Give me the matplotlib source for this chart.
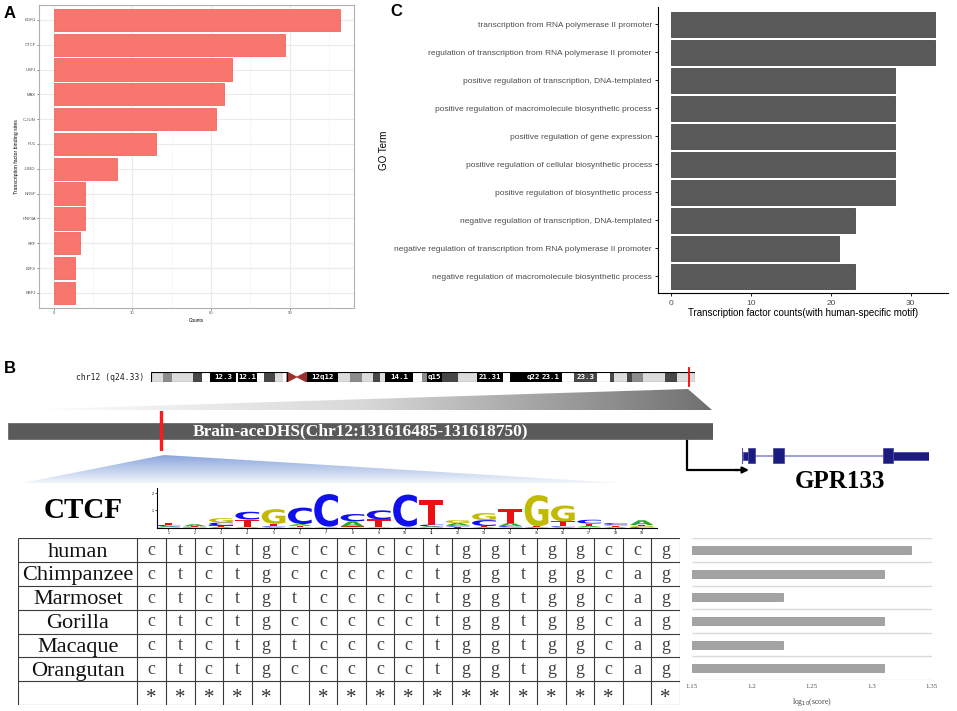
import numpy as np
import matplotlib
matplotlib.use('Agg')
import matplotlib.pyplot as plt
from matplotlib.patches import Rectangle, Polygon, PathPatch
from matplotlib.textpath import TextPath
from matplotlib.font_manager import FontProperties
from matplotlib.transforms import Affine2D
from matplotlib.colors import LinearSegmentedColormap

SANS = ['Liberation Sans', 'DejaVu Sans']
SERIF = ['Liberation Serif', 'DejaVu Serif']
MONO = ['DejaVu Sans Mono']
plt.rcParams['font.family'] = SANS

# ---------------- data ----------------
# Panel A
tf_names = ['EGR1', 'CTCF', 'USF1', 'MAX', 'C-JUN', 'PU1', 'JUND', 'NRSF',
            'HNF4A', 'SRF', 'E2F4', 'EBF1']
tf_counts = [109, 88, 68, 65, 62, 39, 24, 12, 12, 10, 8, 8]

# Panel C
go_terms = ['transcription from RNA polymerase II promoter',
            'regulation of transcription from RNA polymerase II promoter',
            'positive regulation of transcription, DNA-templated',
            'positive regulation of macromolecule biosynthetic process',
            'positive regulation of gene expression',
            'positive regulation of cellular biosynthetic process',
            'positive regulation of biosynthetic process',
            'negative regulation of transcription, DNA-templated',
            'negative regulation of transcription from RNA polymerase II promoter',
            'negative regulation of macromolecule biosynthetic process']
go_counts = [33, 33, 28, 28, 28, 28, 28, 23, 21, 23]

# Panel B: chromosome 12 ideogram (Mb)
chr_length = 133.1
band_start = [0, 3.1, 5.1, 10.3, 12.5, 14.5, 20.9, 21.3, 25.9, 27.7, 30.4, 32.4,
              38.2, 45.9, 48.7, 51.6, 54.4, 56.1, 57.3, 64.2, 66.3, 67.5, 71.2,
              75.2, 79.7, 86.2, 87.9, 92.0, 95.2, 100.5, 103.4, 109.1, 112.3,
              113.2, 116.4, 117.7, 120.5, 125.8, 128.7]
band_end = [3.1, 5.1, 10.3, 12.5, 14.5, 20.9, 21.3, 25.9, 27.7, 30.4, 32.4, 33.3,
            45.9, 48.7, 51.6, 54.4, 56.1, 57.3, 64.2, 66.3, 67.5, 71.2, 75.2,
            79.7, 86.2, 87.9, 92.0, 95.2, 100.5, 103.4, 109.1, 112.3, 113.2,
            116.4, 117.7, 120.5, 125.8, 128.7, 133.1]
band_stain = ['gpos25', 'gpos50', 'gpos25', 'gpos75', 'gneg', 'gpos100', 'gneg',
              'gpos100', 'gneg', 'gpos75', 'gpos25', 'gneg',
              'gpos100', 'gpos25', 'gpos50', 'gpos25', 'gpos75', 'gpos25',
              'gpos100', 'gneg', 'gpos50', 'gpos100', 'gpos75', 'gpos25',
              'gpos100', 'gneg', 'gpos100', 'gpos100', 'gpos100', 'gneg',
              'gpos75', 'gneg', 'gpos75', 'gpos25', 'gpos75', 'gpos50',
              'gpos25', 'gpos75', 'gpos25']
band_label = ['', '', '', '', '', '12.3', '', '12.1', '', '', '', '',
              '12q12', '', '', '', '', '', '14.1', '', '', 'q15', '', '',
              '21.31', '', '', 'q22', '23.1', '', '23.3', '', '', '', '', '',
              '', '', '']
centromere = [33.3, 38.2]
dhs_mb = 131.617

dhs_start, dhs_end = 131616485, 131618750
ctcf_site = 131616977

# GPR133 gene model (percent of gene length)
gene_feat_start = [0.7, 3.4, 16.6, 75.3, 80.8]
gene_feat_end = [3.4, 7.1, 22.6, 80.8, 100.0]
gene_feat_kind = ['utr', 'cds', 'cds', 'cds', 'utr']

# CTCF motif logo (bits)
logo_pos = list(range(1, 20))
logo_A = [0.05, 0.12, 0.05, 0.03, 0.04, 0.10, 0.02, 0.30, 0.02, 0.02, 0.05, 0.13, 0.04, 0.18, 0.02, 0.03, 0.06, 0.05, 0.28]
logo_C = [0.08, 0.03, 0.17, 0.45, 0.04, 0.95, 1.88, 0.42, 0.52, 1.85, 0.10, 0.08, 0.34, 0.06, 0.02, 0.05, 0.22, 0.10, 0.05]
logo_G = [0.03, 0.02, 0.25, 0.02, 0.85, 0.03, 0.02, 0.02, 0.02, 0.02, 0.03, 0.17, 0.40, 0.03, 1.80, 0.92, 0.04, 0.07, 0.05]
logo_T = [0.12, 0.03, 0.08, 0.42, 0.14, 0.08, 0.02, 0.05, 0.44, 0.02, 1.42, 0.06, 0.06, 0.82, 0.04, 0.28, 0.14, 0.05, 0.05]

# Alignment
species = ['human', 'Chimpanzee', 'Marmoset', 'Gorilla', 'Macaque', 'Orangutan']
sequences = ['ctctgccccctggtggccg',
             'ctctgccccctggtggcag',
             'ctctgtcccctggtggcag',
             'ctctgccccctggtggcag',
             'ctctgtcccctggtggcag',
             'ctctgccccctggtggcag']
conserved = ['*' if len(set(col)) == 1 else '' for col in zip(*sequences)]

# log10(score)
log_scores = [1.333, 1.310, 1.226, 1.310, 1.226, 1.310]
score_ticks = [1.15, 1.2, 1.25, 1.3, 1.35]
score_tick_labels = ['1.15', '1.2', '1.25', '1.3', '1.35']

# ---------------- figure ----------------
W, H = 957, 711
fig = plt.figure(figsize=(W / 100, H / 100), dpi=100)
fig.patch.set_facecolor('white')


def px_axes(x0, y0, x1, y1, **kw):
    return fig.add_axes([x0 / W, 1 - y1 / H, (x1 - x0) / W, (y1 - y0) / H], **kw)


# overlay for connectors
axO = px_axes(0, 0, W, H)
axO.set_xlim(0, W)
axO.set_ylim(H, 0)
axO.axis('off')
axO.set_zorder(0)

# ---------- Panel A ----------
axA = px_axes(39.3, 5, 354, 307.7)
yA = np.arange(len(tf_names))
axA.barh(yA, tf_counts, height=0.9, color='#F8766D', edgecolor='#F0675F', lw=0.6, zorder=3)
axA.set_ylim(len(tf_names) - 0.4, -0.6)
axA.set_xlim(-5.45, 114.45)
axA.set_yticks(yA)
axA.set_yticklabels(tf_names)
axA.set_xticks([0, 30, 60, 90])
axA.set_xticks([15, 45, 75, 105], minor=True)
axA.grid(which='major', color='#EBEBEB', lw=0.8)
axA.grid(which='minor', axis='x', color='#F4F4F4', lw=0.5)
axA.set_axisbelow(True)
axA.tick_params(which='major', labelsize=3, labelcolor='#4D4D4D', length=1.5, width=0.5,
                color='#555555', pad=1)
axA.tick_params(which='minor', length=0)
for s in axA.spines.values():
    s.set_color('#B0B0B0')
    s.set_linewidth(0.8)
axA.set_ylabel('Transcription factor binding sites', fontsize=3.7, labelpad=2.5)
axA.set_xlabel('Counts', fontsize=3.4, labelpad=2)
fig.text(4 / W, 1 - 14 / H, 'A', fontsize=12, fontweight='bold', va='center', ha='left')

# ---------- Panel C ----------
axC = px_axes(658, 7.4, 948, 293.3)
yC = np.arange(len(go_terms))
axC.barh(yC, go_counts, height=0.9, color='#595959', edgecolor='#4A4A4A', lw=0.6)
axC.set_ylim(len(go_terms) - 0.4, -0.6)
axC.set_xlim(-1.65, 34.65)
axC.set_yticks(yC)
axC.set_yticklabels(go_terms)
axC.set_xticks([0, 10, 20, 30])
axC.spines['top'].set_visible(False)
axC.spines['right'].set_visible(False)
for s in ['left', 'bottom']:
    axC.spines[s].set_linewidth(0.8)
axC.tick_params(labelsize=6, labelcolor='#4D4D4D', length=2.5, width=0.6, pad=2)
axC.set_xlabel('Transcription factor counts(with human-specific motif)', fontsize=7, labelpad=1)
axC.set_ylabel('GO Term', fontsize=7, labelpad=4)
fig.text(390 / W, 1 - 12 / H, 'C', fontsize=12, fontweight='bold', va='center', ha='left')

# ---------- Panel B ----------
fig.text(4 / W, 1 - 368 / H, 'B', fontsize=12, fontweight='bold', va='center', ha='left')

# gray zoom wedge (chromosome -> DHS)
gray_cmap = LinearSegmentedColormap.from_list('g', ['#ffffff', '#d8d8d8', '#707070'])
wedge = Polygon([(18, 410), (688, 389), (712, 410)], closed=True, fill=False, lw=0)
axO.add_patch(wedge)
im = axO.imshow(np.linspace(0, 1, 256).reshape(1, -1), extent=[18, 712, 410, 389],
                cmap=gray_cmap, aspect='auto', origin='upper', interpolation='bilinear')
im.set_clip_path(wedge)

# blue zoom wedge (DHS -> motif)
blue_cmap = LinearSegmentedColormap.from_list('b', ['#f3f6fc', '#8aa5dc'])
bwedge = Polygon([(164, 455), (22, 483), (620, 483)], closed=True, fill=False, lw=0)
axO.add_patch(bwedge)
im2 = axO.imshow(np.linspace(1, 0, 256).reshape(-1, 1), extent=[22, 620, 483, 455],
                 cmap=blue_cmap, aspect='auto', origin='upper', interpolation='bilinear')
im2.set_clip_path(bwedge)

# promoter arrow
axO.plot([686.7, 686.7, 738], [439, 470, 470], color='black', lw=1.6, solid_capstyle='butt')
axO.annotate('', xy=(749, 470), xytext=(735, 470),
             arrowprops=dict(arrowstyle='-|>', color='black', lw=1.6, mutation_scale=9,
                             shrinkA=0, shrinkB=0))

# chromosome ideogram
stain_col = {'gneg': '#ffffff', 'gpos25': '#dcdcdc', 'gpos50': '#8c8c8c',
             'gpos75': '#474747', 'gpos100': '#000000'}
axChr = px_axes(150.7, 371.7, 695, 382.3)
axChr.set_xlim(0, chr_length)
axChr.set_ylim(0, 1)
axChr.axis('off')
axChr.patch.set_alpha(0)
for s0, s1, st, lab in zip(band_start, band_end, band_stain, band_label):
    axChr.add_patch(Rectangle((s0, 0), s1 - s0, 1, facecolor=stain_col[st],
                              edgecolor='none'))
    if lab:
        axChr.text((s0 + s1) / 2, 0.48, lab, ha='center', va='center',
                   fontsize=5.3, color='white', family=MONO, fontweight='bold')
cm0, cm1 = centromere
cmid = (cm0 + cm1) / 2
axChr.add_patch(Polygon([(cm0, 0), (cm0, 1), (cmid, 0.5)], closed=True,
                        facecolor='#9e2f2a', edgecolor='#9e2f2a', lw=0.5))
axChr.add_patch(Polygon([(cm1, 0), (cm1, 1), (cmid, 0.5)], closed=True,
                        facecolor='#9e2f2a', edgecolor='#9e2f2a', lw=0.5))
axChr.add_patch(Rectangle((0, 0), cm0, 1, fill=False, edgecolor='black', lw=0.8))
axChr.add_patch(Rectangle((cm1, 0), chr_length - cm1, 1, fill=False, edgecolor='black', lw=0.8))
axChr.plot([dhs_mb, dhs_mb], [-0.35, 1.35], color='red', lw=1.3, clip_on=False)
axChr.text(-1.5, 0.5, 'chr12 (q24.33)', ha='right', va='center', fontsize=5.8,
           family=MONO, color='#222222')

# DHS bar
axD = px_axes(8, 411, 713, 451)
axD.set_xlim(dhs_start, dhs_end)
axD.set_ylim(0, 1)
axD.axis('off')
axD.patch.set_alpha(0)
axD.add_patch(Rectangle((dhs_start, 0.3), dhs_end - dhs_start, 0.4,
                        facecolor='#5a5a5a', edgecolor='#6a6a6a', lw=0.6))
axD.plot([ctcf_site, ctcf_site], [0, 1], color='#ff1a1a', lw=2.4)
axD.text((dhs_start + dhs_end) / 2, 0.5,
         'Brain-aceDHS(Chr12:%d-%d)' % (dhs_start, dhs_end),
         ha='center', va='center', color='white', fontsize=12.5, fontweight='bold',
         family=SERIF)

# gene model
axG = px_axes(741.7, 446, 929, 466)
axG.set_xlim(0, 100)
axG.set_ylim(-1, 1)
axG.axis('off')
axG.patch.set_alpha(0)
axG.plot([0, gene_feat_start[-1]], [0, 0], color='#8c8cd6', lw=1.2, zorder=1)
axG.plot([0, 0], [-0.75, 0.75], color='#5555aa', lw=0.8)
for s0, s1, kind in zip(gene_feat_start, gene_feat_end, gene_feat_kind):
    hh = 0.75 if kind == 'cds' else 0.42
    axG.add_patch(Rectangle((s0, -hh), s1 - s0, 2 * hh, facecolor='#1c1c7e',
                            edgecolor='#4a4aa8', lw=0.6, zorder=2))
fig.text(840 / W, 1 - 482 / H, 'GPR133', ha='center', va='center', fontsize=18,
         fontweight='bold', family=SERIF)

# CTCF label
fig.text(83 / W, 1 - 511 / H, 'CTCF', ha='center', va='center', fontsize=21,
         fontweight='bold', family=SERIF)

# motif logo
axL = px_axes(157, 488, 657, 527.7)
axL.patch.set_alpha(0)
axL.set_xlim(0.57, 19.58)
axL.set_ylim(0, 2.29)
for s in ['top', 'right']:
    axL.spines[s].set_visible(False)
for s in ['left', 'bottom']:
    axL.spines[s].set_linewidth(0.8)
axL.set_xticks(logo_pos)
axL.set_yticks([1, 2])
axL.tick_params(labelsize=2.6, length=1.5, width=0.5, pad=1)
logo_fp = FontProperties(family='DejaVu Sans', weight='bold')
letter_col = {'A': '#1fae1f', 'C': '#1010ee', 'G': '#c2ba00', 'T': '#ee1010'}


def draw_letter(ax, ch, xc, y0, w, h, color):
    if h <= 0:
        return
    tp = TextPath((0, 0), ch, size=1, prop=logo_fp)
    bb = tp.get_extents()
    tr = Affine2D().translate(-bb.x0, -bb.y0).scale(w / bb.width, h / bb.height) \
        .translate(xc - w / 2, y0)
    ax.add_patch(PathPatch(tr.transform_path(tp), facecolor=color, edgecolor='none'))


for i, p in enumerate(logo_pos):
    stack = sorted([('A', logo_A[i]), ('C', logo_C[i]), ('G', logo_G[i]), ('T', logo_T[i])],
                   key=lambda t: t[1])
    ybase = 0
    for ch, hgt in stack:
        draw_letter(axL, ch, p, ybase, 0.9, hgt, letter_col[ch])
        ybase += hgt

# alignment table
axT = px_axes(18.3, 538.3, 680, 705)
axT.patch.set_alpha(0)
first_w = 4.17
ncol = len(sequences[0])
nrow = len(species) + 1
axT.set_xlim(-first_w, ncol)
axT.set_ylim(nrow, 0)
axT.axis('off')
axT.vlines([-first_w] + list(range(0, ncol + 1)), 0, nrow, color='#3a3a3a', lw=0.8)
axT.hlines(range(0, nrow + 1), -first_w, ncol, color='#3a3a3a', lw=0.8)
for r, (name, seq) in enumerate(zip(species, sequences)):
    axT.text(-first_w / 2, r + 0.5 + 0.27, name, ha='center', va='baseline',
             fontsize=16, family=SERIF, color='#111111')
    for c, ch in enumerate(seq):
        axT.text(c + 0.5, r + 0.5 + 0.2, ch, ha='center', va='baseline',
                 fontsize=13, family=SERIF, color='#444444')
for c, st in enumerate(conserved):
    if st:
        axT.text(c + 0.5, nrow - 0.5 + 0.42, st, ha='center', va='baseline',
                 fontsize=15, family=SERIF, color='#333333')

# score bar chart
axS = px_axes(691.7, 538.3, 931.7, 680)
axS.patch.set_alpha(0)
nS = len(log_scores)
axS.set_xlim(score_ticks[0], score_ticks[-1])
axS.set_ylim(nS, 0)
axS.hlines(range(0, nS + 1), score_ticks[0], score_ticks[-1], color='#dadada', lw=1.0)
axS.barh(np.arange(nS) + 0.5, np.array(log_scores) - score_ticks[0], left=score_ticks[0],
         height=0.34, color='#a3a3a3', edgecolor='#8f8f8f', lw=0.5)
for s in axS.spines.values():
    s.set_visible(False)
axS.set_yticks([])
axS.set_xticks(score_ticks)
axS.set_xticklabels(score_tick_labels, family=SERIF)
axS.tick_params(axis='x', labelsize=5, labelcolor='#555555', length=0, pad=3)
axS.set_xlabel(r'log$_{10}$(score)', fontsize=5.5, family=SERIF, color='#444444', labelpad=5)

fig.savefig('out.png', dpi=100)
